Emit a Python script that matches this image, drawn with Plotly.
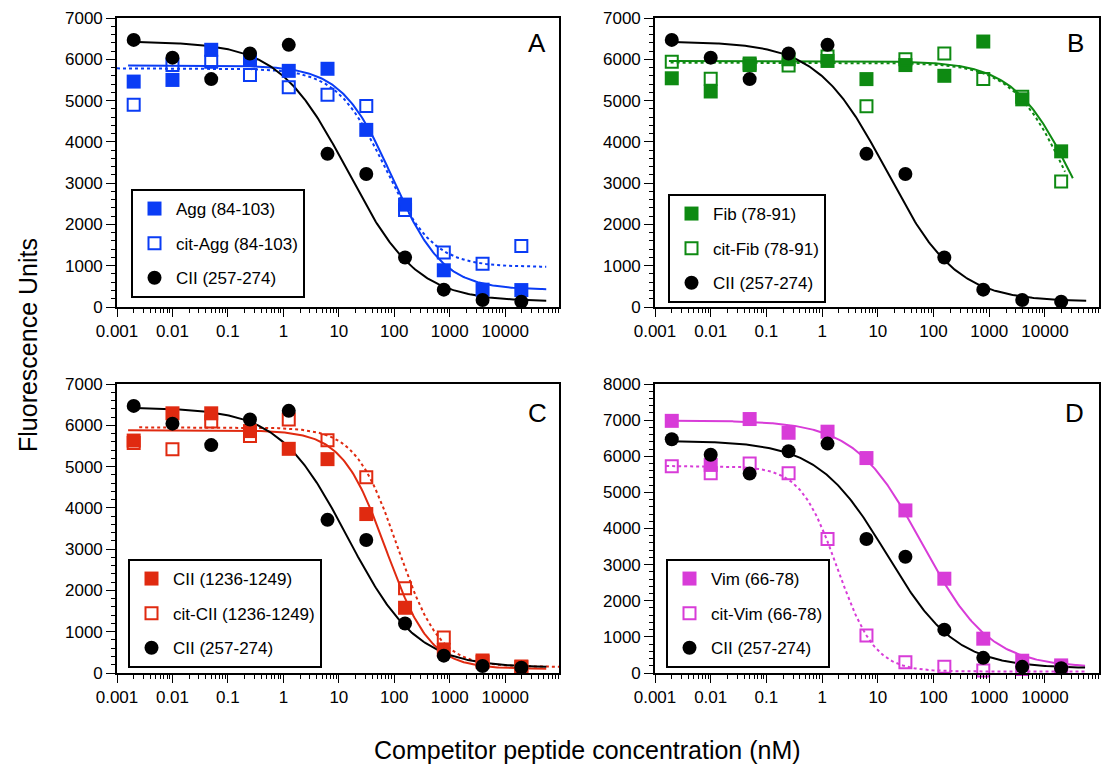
import numpy as np
import plotly.graph_objects as go

# ---------------- data ----------------
conc = [0.002, 0.01, 0.05, 0.25, 1.25, 6.25, 31.25, 156.25, 781.25, 3906.25, 19531.25]

cii_257 = [6470, 6040, 5520, 6140, 6350, 3710, 3220, 1200, 420, 170, 130]

agg = [5460, 5500, 6230, 6000, 5720, 5770, 4290, 2480, 890, 420, 410]
cit_agg = [4900, 5860, 5940, 5620, 5320, 5140, 4870, 2350, 1320, 1050, 1480]

fib = [5540, 5220, 5860, 6000, 5960, 5520, 5860, 5600, 6430, 5030, 3770]
cit_fib = [5940, 5530, 5900, 5850, 6070, 4860, 6000, 6140, 5520, 5090, 3040]

cii_1236 = [5630, 6290, 6290, 5860, 5430, 5180, 3850, 1580, 560, 270, 140]
cit_cii_1236 = [5570, 5420, 6090, 5740, 6140, 5640, 4740, 2050, 860, 300, 160]

vim = [6980, 5760, 7030, 6650, 6680, 5950, 4500, 2610, 950, 340, 210]
cit_vim = [5720, 5530, 5800, 5530, 3710, 1040, 300, 170, 70, 110, 150]

# fitted 4-parameter logistic curves: top, bottom, IC50 (nM), Hill slope
fit_cii_257 = dict(top=6430, bottom=130, ic50=14.5, hill=0.70)
fit_agg = dict(top=5850, bottom=420, ic50=92, hill=0.95)
fit_cit_agg = dict(top=5780, bottom=970, ic50=68, hill=1.0)
fit_fib = dict(top=5960, bottom=0, ic50=35500, hill=0.8)
fit_cit_fib = dict(top=5920, bottom=0, ic50=29500, hill=0.85)
fit_cii_1236 = dict(top=5880, bottom=100, ic50=71, hill=1.1)
fit_cit_cii_1236 = dict(top=5950, bottom=150, ic50=115, hill=1.15)
fit_vim = dict(top=6990, bottom=150, ic50=63, hill=0.72)
fit_cit_vim = dict(top=5730, bottom=40, ic50=1.9, hill=1.3)

x_ticks = [0.001, 0.01, 0.1, 1, 10, 100, 1000, 10000]
x_tick_text = ["0.001", "0.01", "0.1", "1", "10", "100", "1000", "10000"]

BLUE = "#0a3cf5"
GREEN = "#0e8a12"
RED = "#e02a10"
MAGENTA = "#d83cd8"
BLACK = "#000000"
FONT = "Liberation Sans, Arial, Helvetica, sans-serif"
TICK_SIZE = 17
LEGEND_SIZE = 17


def curve(p, lo, hi):
    x = np.logspace(lo, hi, 300)
    y = p["bottom"] + (p["top"] - p["bottom"]) / (1 + (x / p["ic50"]) ** p["hill"])
    return x, y


fig = go.Figure()

panels = [
    ("", "legend", agg, cit_agg, "Agg (84-103)", "cit-Agg (84-103)", BLUE,
     fit_agg, fit_cit_agg, (-2.8, 4.74), (-3.0, 4.74), (-2.62, 4.74)),
    ("2", "legend2", fib, cit_fib, "Fib (78-91)", "cit-Fib (78-91)", GREEN,
     fit_fib, fit_cit_fib, (-2.75, 4.50), (-2.72, 4.36), (-2.67, 4.74)),
    ("3", "legend3", cii_1236, cit_cii_1236, "CII (1236-1249)", "cit-CII (1236-1249)", RED,
     fit_cii_1236, fit_cit_cii_1236, (-2.8, 4.74), (-2.6, 4.97), (-2.67, 4.74)),
    ("4", "legend4", vim, cit_vim, "Vim (66-78)", "cit-Vim (66-78)", MAGENTA,
     fit_vim, fit_cit_vim, (-2.7, 4.72), (-2.8, 4.72), (-2.7, 4.72)),
]

for (sfx, leg, filled, opened, fname, oname, col, fsol, fdot, span_s, span_d, span_k) in panels:
    xa = "x" + sfx
    ya = "y" + sfx
    cx, cy = curve(fsol, *span_s)
    fig.add_trace(go.Scatter(x=cx, y=cy, mode="lines", line=dict(color=col, width=2),
                             xaxis=xa, yaxis=ya, showlegend=False, hoverinfo="skip"))
    cx, cy = curve(fdot, *span_d)
    fig.add_trace(go.Scatter(x=cx, y=cy, mode="lines", line=dict(color=col, width=2, dash="dot"),
                             xaxis=xa, yaxis=ya, showlegend=False, hoverinfo="skip"))
    cx, cy = curve(fit_cii_257, *span_k)
    fig.add_trace(go.Scatter(x=cx, y=cy, mode="lines", line=dict(color=BLACK, width=2),
                             xaxis=xa, yaxis=ya, showlegend=False, hoverinfo="skip"))
    fig.add_trace(go.Scatter(x=conc, y=filled, mode="markers", name=fname,
                             marker=dict(symbol="square", size=14, color=col, line=dict(width=0)),
                             xaxis=xa, yaxis=ya, legend=leg, legendgroup=leg + "a", cliponaxis=False))
    fig.add_trace(go.Scatter(x=conc, y=opened, mode="markers", name=oname,
                             marker=dict(symbol="square-open", size=12, color=col, line=dict(width=2, color=col)),
                             xaxis=xa, yaxis=ya, legend=leg, legendgroup=leg + "b", cliponaxis=False))
    fig.add_trace(go.Scatter(x=conc, y=cii_257, mode="markers", name="CII (257-274)",
                             marker=dict(symbol="circle", size=14, color=BLACK, line=dict(width=0)),
                             xaxis=xa, yaxis=ya, legend=leg, legendgroup=leg + "c", cliponaxis=False))

# ---------------- layout ----------------
W, H = 1106, 767
doms_x = {"": (117, 559), "2": (655, 1099), "3": (117, 559), "4": (655, 1099)}
doms_y = {"": (18, 307), "2": (18, 307), "3": (384, 673), "4": (384, 673)}
ymaxes = {"": 7000, "2": 7000, "3": 7000, "4": 8000}

minor_x = [m * 10.0 ** e for e in range(-3, 5) for m in range(2, 10)]

layout = dict(
    width=W, height=H, margin=dict(l=0, r=0, t=0, b=0, autoexpand=False),
    paper_bgcolor="white", plot_bgcolor="white",
    font=dict(family=FONT, size=TICK_SIZE, color="black"),
    showlegend=True,
)

for sfx in ["", "2", "3", "4"]:
    x0, x1 = doms_x[sfx]
    y0, y1 = doms_y[sfx]
    ymax = ymaxes[sfx]
    layout["xaxis" + sfx] = dict(
        type="log", domain=[x0 / W, x1 / W], range=[-3, 4.97], automargin=False,
        anchor="y" + sfx, tickmode="array", tickvals=x_ticks, ticktext=x_tick_text,
        ticks="outside", ticklen=8, tickwidth=1.3, tickcolor="black",
        showline=True, linecolor="black", linewidth=1.6, mirror=True,
        showgrid=False, zeroline=False, tickfont=dict(size=TICK_SIZE, family=FONT),
        minor=dict(tickmode="array", tickvals=minor_x, ticks="outside", ticklen=4,
                   tickwidth=1, tickcolor="black", showgrid=False),
    )
    layout["yaxis" + sfx] = dict(
        domain=[1 - y1 / H, 1 - y0 / H], range=[0, ymax], anchor="x" + sfx, automargin=False,
        tickmode="linear", tick0=0, dtick=1000, tickformat="d",
        ticks="outside", ticklen=9, tickwidth=1.3, tickcolor="black",
        showline=True, linecolor="black", linewidth=1.6, mirror=True,
        showgrid=False, zeroline=False, tickfont=dict(size=TICK_SIZE, family=FONT),
        minor=dict(dtick=200, ticks="outside", ticklen=4, tickwidth=1,
                   tickcolor="black", showgrid=False),
    )

legend_pos = {"legend": (131, 189), "legend2": (668, 194), "legend3": (128, 559), "legend4": (666, 559)}
for name, (lx, ly) in legend_pos.items():
    layout[name] = dict(
        x=lx / W, y=1 - ly / H, xanchor="left", yanchor="top",
        bgcolor="white", bordercolor="black", borderwidth=2,
        font=dict(family=FONT, size=LEGEND_SIZE, color="black"),
        tracegroupgap=9.5, itemsizing="trace", traceorder="grouped", itemwidth=33,
    )

annotations = []
for letter, (ax, ay) in zip("ABCD", [(537, 43), (1075, 43), (537, 413), (1074, 413)]):
    annotations.append(dict(text=letter, x=ax / W, y=1 - ay / H, xref="paper", yref="paper",
                            showarrow=False, xanchor="center", yanchor="middle",
                            font=dict(family=FONT, size=26, color="black")))
annotations.append(dict(text="Fluorescence Units", x=28 / W, y=1 - 345 / H, xref="paper", yref="paper",
                        showarrow=False, textangle=-90, xanchor="center", yanchor="middle",
                        font=dict(family=FONT, size=25, color="black")))
annotations.append(dict(text="Competitor peptide concentration (nM)", x=588 / W, y=1 - 750 / H,
                        xref="paper", yref="paper", showarrow=False, xanchor="center", yanchor="middle",
                        font=dict(family=FONT, size=25, color="black")))
layout["annotations"] = annotations

fig.update_layout(**layout)
fig.write_html("out.html")
